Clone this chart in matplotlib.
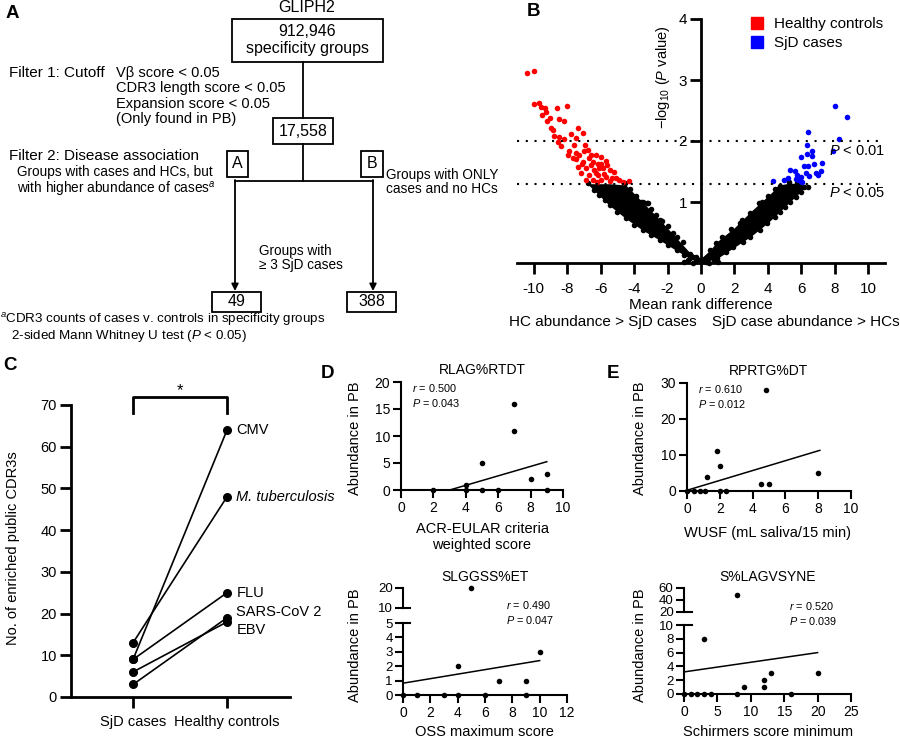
import numpy as np
import matplotlib
matplotlib.use("Agg")
import matplotlib.pyplot as plt
from matplotlib.patches import Rectangle
from matplotlib.lines import Line2D

plt.rcParams['font.family'] = ['Liberation Sans', 'DejaVu Sans']
plt.rcParams['mathtext.fontset'] = 'custom'
plt.rcParams['mathtext.rm'] = 'Liberation Sans'
plt.rcParams['mathtext.it'] = 'Liberation Sans:italic'
plt.rcParams['axes.unicode_minus'] = False

# ---------------- Panel A (flowchart text / counts) ----------------
flow_title = 'GLIPH2'
flow_counts = ['912,946', '17,558', '49', '388']
flow_first_sub = 'specificity groups'
filter1_label = 'Filter 1: Cutoff'
filter1_criteria = ['V\u03b2 score < 0.05', 'CDR3 length score < 0.05',
                    'Expansion score < 0.05', '(Only found in PB)']
filter2_label = 'Filter 2: Disease association'
branch_a_text = ['Groups with cases and HCs, but', 'with higher abundance of cases$^{a}$']
branch_b_text = ['Groups with ONLY', 'cases and no HCs']
branch_a_cond = ['Groups with', '\u2265 3 SjD cases']
footnote = ['$^{a}$CDR3 counts of cases v. controls in specificity groups',
            '   2-sided Mann Whitney U test ($P$ < 0.05)']

# ---------------- Panel B (volcano) ----------------
hc_x = [-10.43, -9.97, -9.97, -9.71, -9.57, -9.33, -9.27, -9.53, -9.01, -9.23, -8.63, -8.0,
        -8.51, -8.17, -8.97, -8.87, -7.37, -7.03, -7.77, -8.77, -8.47, -8.17, -7.47, -8.57,
        -7.57, -8.37, -6.91, -6.77, -7.97, -7.47, -7.27, -6.57, -6.27, -5.97, -7.67, -7.07,
        -6.47, -6.17, -5.67, -7.37, -6.87, -6.37, -5.87, -5.47, -7.17, -6.67, -6.17, -5.67,
        -5.23, -5.11, -4.67, -4.31, -6.87, -6.47, -5.97, -5.47, -7.87, -6.97, -6.67, -6.07,
        -7.1, -6.3, -5.8, -6.0, -6.6, -7.5, -5.3, -4.9, -6.2, -5.6]
hc_y = [3.12, 3.14, 2.61, 2.62, 2.56, 2.54, 2.48, 2.43, 2.38, 2.33, 2.54, 2.57,
        2.36, 2.32, 2.21, 2.18, 2.21, 2.13, 2.11, 2.08, 2.07, 2.04, 2.05, 1.99,
        1.93, 1.91, 1.93, 1.85, 1.77, 1.80, 1.77, 1.77, 1.77, 1.73, 1.72, 1.66,
        1.66, 1.63, 1.67, 1.58, 1.55, 1.52, 1.55, 1.52, 1.47, 1.44, 1.44, 1.41,
        1.50, 1.39, 1.33, 1.35, 1.36, 1.36, 1.36, 1.34, 1.83, 1.83, 1.72, 1.55,
        1.62, 1.48, 1.46, 1.62, 1.60, 1.70, 1.40, 1.36, 1.33, 1.60]
sjd_x = [8.01, 8.75, 6.39, 8.25, 6.35, 7.89, 6.65, 6.31, 5.99, 6.61, 7.25, 6.75, 6.15, 6.39,
         5.30, 5.61, 7.15, 6.99, 6.25, 6.45, 5.95, 4.99, 4.31, 5.65, 5.85, 5.19, 6.05, 6.85, 5.75]
sjd_y = [2.57, 2.39, 2.14, 2.03, 1.93, 1.83, 1.83, 1.79, 1.73, 1.75, 1.64, 1.63, 1.59, 1.59,
         1.52, 1.51, 1.51, 1.44, 1.47, 1.43, 1.41, 1.36, 1.35, 1.37, 1.35, 1.39, 1.33, 1.47, 1.44]
# non-significant cloud: envelope
ns_left_x = [-6.8, -6.1, -5.5, -4.5, -3.5, -2.5, -1.5, -0.7, 0.0]
ns_left_lo = [1.30, 1.11, 0.95, 0.73, 0.54, 0.38, 0.21, 0.08, 0.0]
ns_left_hi = [1.30, 1.30, 1.30, 1.28, 1.00, 0.72, 0.42, 0.18, 0.08]
ns_right_x = [0.0, 0.5, 1.0, 2.0, 3.0, 4.0, 4.7, 5.3, 6.0, 6.2]
ns_right_lo = [0.0, 0.04, 0.08, 0.26, 0.44, 0.66, 0.84, 1.0, 1.18, 1.25]
ns_right_hi = [0.08, 0.20, 0.36, 0.58, 0.85, 1.10, 1.28, 1.31, 1.30, 1.25]
ns_x = [-6.77, -6.4, -6.07, -5.75, -5.47, -5.0, -4.46, -4.0, -3.46, -3.0, -2.46, -2.0, -1.46, -1.0,
        -0.66, -0.3, -4.56, -4.26, -3.9, -3.56, -3.2, -3.0, -2.7, -2.36, -2.0, -1.7, -1.46, -1.06,
        -0.66, -0.3, -3.46, -3.16, -2.46,
        0.3, 0.94, 1.5, 1.94, 2.5, 2.94, 3.5, 3.95, 4.4, 4.74, 5.05, 5.35, 5.65, 5.95, 6.15,
        0.54, 0.9, 1.24, 1.8, 2.34, 2.44, 2.9, 3.44, 3.64, 4.0, 4.44, 4.74, 5.24, 5.75, 6.39, 4.59,
        -1.0, -0.5, 0.5, 1.0, -0.8, 0.8]
ns_y = [1.31, 1.2, 1.11, 1.03, 0.95, 0.84, 0.73, 0.63, 0.54, 0.46, 0.38, 0.30, 0.21, 0.13,
        0.08, 0.03, 1.31, 1.22, 1.10, 1.0, 0.99, 0.88, 0.78, 0.69, 0.60, 0.50, 0.42, 0.35,
        0.15, 0.10, 1.0, 0.98, 0.70,
        0.02, 0.08, 0.18, 0.27, 0.35, 0.43, 0.54, 0.65, 0.75, 0.84, 0.92, 1.0, 1.08, 1.17, 1.25,
        0.21, 0.32, 0.43, 0.55, 0.65, 0.70, 0.82, 0.98, 1.0, 1.10, 1.22, 1.26, 1.33, 1.31, 1.24, 1.21,
        0.02, 0.0, 0.0, 0.02, 0.05, 0.05]
p_thresholds = [2.0, 1.3]
p_labels = ['$P$ < 0.01', '$P$ < 0.05']

# ---------------- Panel C ----------------
c_groups = ['SjD cases', 'Healthy controls']
c_pathogens = ['CMV', 'M. tuberculosis', 'FLU', 'SARS-CoV 2', 'EBV']
c_sjd = [9, 13, 9, 3, 6]
c_hc = [64, 48, 25, 19, 18]

# ---------------- Panel D / E scatter data ----------------
d1_title = 'RLAG%RTDT'
d1_x = [2, 4, 4, 5, 5, 6, 7, 7, 8, 9, 9]
d1_y = [0, 1, 0, 5, 0, 0, 16, 11, 2, 3, 0]
d1_fit = (0.875, -2.63, 3.0, 9.0)   # slope, intercept, x from, x to
d1_stats = ('0.500', '0.043')

d2_title = 'SLGGSS%ET'
d2_x = [0, 1, 3, 4, 4, 5, 6, 7, 9, 9, 10]
d2_y = [0, 0, 0, 0, 2, 20, 0, 1, 1, 0, 3]
d2_fit = (0.157, 0.82, 0.0, 10.0)
d2_stats = ('0.490', '0.047')

e1_title = 'RPRTG%DT'
e1_x = [0.0, 0.4, 0.8, 1.1, 1.2, 1.8, 2.0, 2.0, 2.4, 4.5, 5.0, 4.8, 8.0]
e1_y = [0, 0, 0, 0, 4, 11, 7, 0, 0, 2, 2, 28, 5]
e1_fit = (1.37, 0.2, 0.0, 8.1)
e1_stats = ('0.610', '0.012')

e2_title = 'S%LAGVSYNE'
e2_x = [0, 1, 2, 3, 4, 3, 8, 8, 9, 12, 12, 13, 16, 20]
e2_y = [0, 0, 0, 0, 0, 8, 48, 0, 1, 2, 1, 3, 0, 3]
e2_fit = (0.14, 3.2, 0.0, 20.0)
e2_stats = ('0.520', '0.039')

# =====================================================================
W, H = 900, 740
fig = plt.figure(figsize=(W / 100, H / 100), dpi=100)


def rect(l, t, r, b):
    return [l / W, 1 - b / H, (r - l) / W, (b - t) / H]


def basic_style(ax, lw=1.5, tl=6, fs=9.5):
    for s in ['top', 'right']:
        ax.spines[s].set_visible(False)
    for s in ['left', 'bottom']:
        ax.spines[s].set_linewidth(lw)
    ax.tick_params(width=lw, length=tl, labelsize=fs, pad=2)
    ax.patch.set_alpha(0)


# ---------------- Panel B ----------------
axB = fig.add_axes(rect(517, 19, 885, 263))
basic_style(axB, lw=2.0, tl=8, fs=11)
axB.spines['left'].set_position(('data', 0))
axB.spines['left'].set_bounds(0, 4)
axB.set_xlim(-11, 11)
axB.set_ylim(0, 4)
axB.set_xticks(range(-10, 11, 2))
axB.set_yticks([1, 2, 3, 4])
axB.tick_params(axis='x', pad=6)
axB.fill_between(ns_left_x, ns_left_lo, ns_left_hi, color='black', lw=0, zorder=2, clip_on=False)
axB.fill_between(ns_right_x, ns_right_lo, ns_right_hi, color='black', lw=0, zorder=2, clip_on=False)
axB.scatter(ns_x, ns_y, s=16, color='black', lw=0, zorder=2, clip_on=False)
axB.scatter(hc_x, hc_y, s=16, color='#ff0000', lw=0, zorder=3)
axB.scatter(sjd_x, sjd_y, s=16, color='#0000ff', lw=0, zorder=3)
for yv, lab, off in zip(p_thresholds, p_labels, [-0.16, -0.15]):
    axB.axhline(yv, xmax=0.995, color='black', lw=1.5, ls=(0, (1, 3.2)), zorder=4)
    axB.text(11, yv + off, lab, ha='right', va='center', fontsize=10.5)
axB.text(-2.3, 3.05, '\u2212log$_{10}$ ($P$ value)', rotation=90, ha='center', va='center', fontsize=10.5)
axB.set_xlabel('Mean rank difference', fontsize=11, labelpad=1)
handles = [Line2D([], [], marker='s', ls='', color='#ff0000', markersize=9),
           Line2D([], [], marker='s', ls='', color='#0000ff', markersize=9)]
axB.legend(handles, ['Healthy controls', 'SjD cases'], loc='upper left',
           bbox_to_anchor=((743 - 517) / 368, 1.04), frameon=False, fontsize=11,
           handlelength=0.8, handletextpad=0.7, labelspacing=0.35, borderpad=0)

# ---------------- Panel C ----------------
axC = fig.add_axes(rect(71, 405, 290, 697))
basic_style(axC, lw=2.0, tl=8, fs=10.5)
axC.set_xlim(-0.66, 1.67)
axC.set_ylim(0, 70)
axC.spines['left'].set_bounds(0, 70)
axC.set_yticks(range(0, 71, 10))
axC.set_xticks([0, 1])
axC.set_xticklabels(c_groups, fontsize=10.5)
axC.tick_params(axis='x', pad=5)
for s0, s1, name in zip(c_sjd, c_hc, c_pathogens):
    axC.plot([0, 1], [s0, s1], color='black', lw=1.2, marker='o', markersize=5.5, clip_on=False, zorder=3)
label_y = [64, 48, 25, 20.4, 16.1]
for yv, name in zip(label_y, c_pathogens):
    axC.text(1.1, yv, name, va='center', ha='left', fontsize=10.5,
             fontstyle='italic' if name.startswith('M.') else 'normal')
axC.plot([0, 0, 1, 1], [68.1, 71.9, 71.9, 68.1], color='black', lw=2.0, clip_on=False)
axC.text(0.5, 73.5, '*', ha='center', va='center', fontsize=12)
axC.set_ylabel('No. of enriched public CDR3s', fontsize=10.5)
axC.yaxis.set_label_coords(-0.235, 0.51)


# ---------------- Panel D / E ----------------
def simple_scatter(box, x, y, fit, stats, title, xlim, ylim, xticks, yticks, stat_pos):
    ax = fig.add_axes(rect(*box))
    basic_style(ax, lw=1.5, tl=6, fs=10)
    ax.set_xlim(*xlim)
    ax.set_ylim(*ylim)
    ax.set_xticks(xticks)
    ax.set_yticks(yticks)
    ax.scatter(x, y, s=16, color='black', lw=0, zorder=3, clip_on=False)
    xs = np.array([fit[2], fit[3]])
    ax.plot(xs, fit[0] * xs + fit[1], color='black', lw=1.1)
    ax.text(stat_pos[0], stat_pos[1], '$r$ = ' + stats[0] + '\n$P$ = ' + stats[1],
            transform=ax.transAxes, fontsize=7.8, va='top', ha='left', linespacing=1.3)
    ax.set_title(title, fontsize=10, pad=6)
    return ax


axD1 = simple_scatter((401, 382, 563, 490), d1_x, d1_y, d1_fit, d1_stats, d1_title,
                      (0, 10), (0, 20), range(0, 11, 2), range(0, 21, 5), (0.07, 1.0))
axE1 = simple_scatter((687, 383, 851, 491), e1_x, e1_y, e1_fit, e1_stats, e1_title,
                      (0, 10), (0, 30), range(0, 11, 2), range(0, 31, 10), (0.07, 1.0))


def broken_scatter(box_hi, box_lo, x, y, fit, stats, title, xlim, lim_lo, lim_hi,
                   ticks_lo, ticks_hi, stat_pos):
    x = np.asarray(x, float)
    y = np.asarray(y, float)
    hi = y > lim_lo[1]
    axl = fig.add_axes(rect(*box_lo))
    basic_style(axl, lw=1.5, tl=6, fs=10)
    axl.set_xlim(*xlim)
    axl.set_ylim(*lim_lo)
    axl.set_yticks(ticks_lo)
    axl.tick_params(axis='y', labelsize=9.5, pad=1.5)
    axl.scatter(x[~hi], y[~hi], s=16, color='black', lw=0, zorder=3, clip_on=False)
    xs = np.array([fit[2], fit[3]])
    axl.plot(xs, fit[0] * xs + fit[1], color='black', lw=1.1)
    axl.plot([0, 0.045], [1, 1], transform=axl.transAxes, color='black', lw=1.5, clip_on=False)
    axh = fig.add_axes(rect(*box_hi))
    basic_style(axh, lw=1.5, tl=6, fs=9.5)
    axh.tick_params(axis='y', pad=1.5)
    axh.spines['bottom'].set_visible(False)
    axh.set_xlim(*xlim)
    axh.set_ylim(*lim_hi)
    axh.set_yticks(ticks_hi)
    axh.set_xticks([])
    axh.scatter(x[hi], y[hi], s=16, color='black', lw=0, zorder=3, clip_on=False)
    axh.plot([0, 0.045], [0, 0], transform=axh.transAxes, color='black', lw=1.5, clip_on=False)
    axh.text(stat_pos[0], stat_pos[1], '$r$ = ' + stats[0] + '\n$P$ = ' + stats[1],
             transform=axh.transAxes, fontsize=7.8, va='top', ha='left', linespacing=1.3)
    axh.set_title(title, fontsize=10, pad=5)
    return axl, axh


axD2l, axD2h = broken_scatter((403, 588, 567, 608), (403, 623, 567, 695), d2_x, d2_y, d2_fit,
                              d2_stats, d2_title, (0, 12), (0, 5), (10, 20),
                              range(0, 6), [10, 20], (0.63, 0.45))
axD2l.set_xticks(range(0, 13, 2))
axE2l, axE2h = broken_scatter((684, 588, 851, 612), (684, 625, 851, 694), e2_x, e2_y, e2_fit,
                              e2_stats, e2_title, (0, 25), (0, 10), (20, 60),
                              range(0, 11, 2), [20, 40, 60], (0.63, 0.5))
axE2l.set_xticks(range(0, 26, 5))

# ---------------- overlay: panel A flowchart, letters, free labels ----------------
ov = fig.add_axes([0, 0, 1, 1])
ov.set_xlim(0, W)
ov.set_ylim(H, 0)
ov.axis('off')
ov.patch.set_alpha(0)

fsA = 11.5
ov.text(307, 8, flow_title, ha='center', va='center', fontsize=fsA)
ov.add_patch(Rectangle((232, 19), 151, 43, fill=False, lw=1.3))
ov.text(307, 32, flow_counts[0], ha='center', va='center', fontsize=fsA)
ov.text(307, 49, flow_first_sub, ha='center', va='center', fontsize=fsA)
ov.plot([303, 303], [62, 118], color='black', lw=1.3)
ov.add_patch(Rectangle((273, 118), 60, 26, fill=False, lw=1.3))
ov.text(303, 131, flow_counts[1], ha='center', va='center', fontsize=fsA)
ov.plot([303, 303], [144, 181], color='black', lw=1.3)
ov.plot([235, 373], [181, 181], color='black', lw=1.3)
for xa in [235, 373]:
    ov.annotate('', xy=(xa, 291), xytext=(xa, 180),
                arrowprops=dict(arrowstyle='-|>', color='black', lw=1.3, mutation_scale=10,
                                shrinkA=0, shrinkB=0))
ov.add_patch(Rectangle((212, 292), 49, 20, fill=False, lw=1.3))
ov.text(236.5, 302, flow_counts[2], ha='center', va='center', fontsize=fsA)
ov.add_patch(Rectangle((347, 292), 49, 20, fill=False, lw=1.3))
ov.text(371.5, 302, flow_counts[3], ha='center', va='center', fontsize=fsA)
ov.add_patch(Rectangle((227, 151), 21, 26, fill=False, lw=1.3))
ov.text(237.5, 164, 'A', ha='center', va='center', fontsize=fsA)
ov.add_patch(Rectangle((361, 151), 22, 26, fill=False, lw=1.3))
ov.text(372, 164, 'B', ha='center', va='center', fontsize=fsA)

ov.text(9, 73, filter1_label, ha='left', va='center', fontsize=11)
for i, t in enumerate(filter1_criteria):
    ov.text(116, 73 + i * 15.3, t, ha='left', va='center', fontsize=10.5)
ov.text(9, 156, filter2_label, ha='left', va='center', fontsize=11)
fs2 = 9.8
ov.text(17, 182, '\n'.join(branch_a_text), ha='left', va='center', fontsize=fs2, linespacing=1.05)
ov.text(386, 182, '\n'.join(branch_b_text), ha='left', va='center', fontsize=fs2, linespacing=1.05)
ov.text(259, 258, '\n'.join(branch_a_cond), ha='left', va='center', fontsize=fs2, linespacing=1.05)
ov.text(0, 327.5, '\n'.join(footnote), ha='left', va='center', fontsize=9.6, linespacing=1.0)

# panel B bottom labels
ov.text(603, 322, 'HC abundance > SjD cases', ha='center', va='center', fontsize=11)
ov.text(806, 322, 'SjD case abundance > HCs', ha='center', va='center', fontsize=11)

# D / E free axis labels
ov.text(355, 438, 'Abundance in PB', rotation=90, ha='center', va='center', fontsize=10.5)
ov.text(640, 438, 'Abundance in PB', rotation=90, ha='center', va='center', fontsize=10.5)
ov.text(355, 645, 'Abundance in PB', rotation=90, ha='center', va='center', fontsize=10.5)
ov.text(640, 645, 'Abundance in PB', rotation=90, ha='center', va='center', fontsize=10.5)
ov.text(482, 537, 'ACR-EULAR criteria\nweighted score', ha='center', va='center', fontsize=10.5,
        linespacing=1.2)
ov.text(768, 533, 'WUSF (mL saliva/15 min)', ha='center', va='center', fontsize=10.5)
ov.text(484, 739, 'OSS maximum score', ha='center', va='bottom', fontsize=10.5)
ov.text(768, 739, 'Schirmers score minimum', ha='center', va='bottom', fontsize=10.5)

# panel letters
for lab, (px, py) in zip('ABCDE', [(12, 13), (533, 12), (10, 365), (328, 373), (613, 373)]):
    ov.text(px, py, lab, ha='center', va='center', fontsize=13.5, fontweight='bold')

fig.savefig('out.png', dpi=100)
